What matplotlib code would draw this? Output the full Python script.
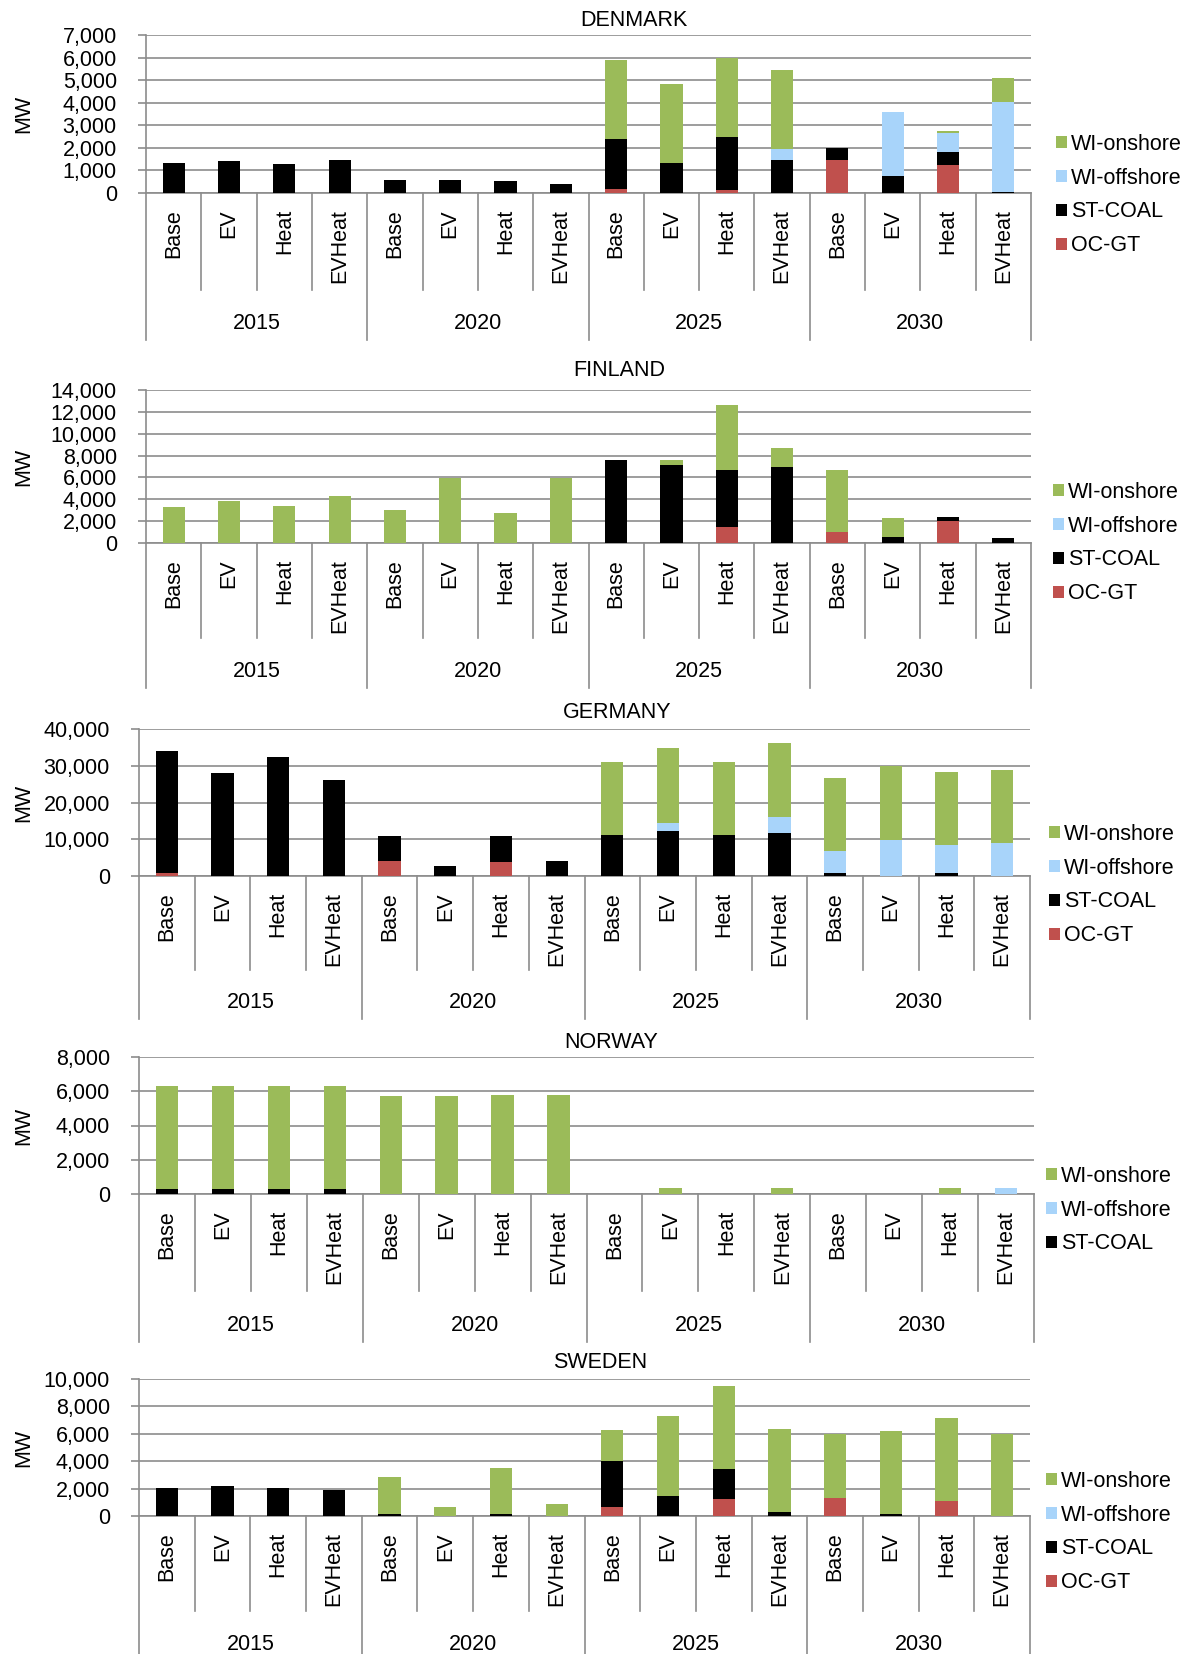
import matplotlib
matplotlib.use('Agg')
import matplotlib.pyplot as plt
from matplotlib.patches import Patch
from matplotlib.ticker import FuncFormatter

plt.rcParams['font.family'] = ['Liberation Sans', 'DejaVu Sans']
plt.rcParams['font.size'] = 15.5

W, H = 1191, 1654

years = ['2015', '2020', '2025', '2030']
scenarios = ['Base', 'EV', 'Heat', 'EVHeat']

series_names = ['OC-GT', 'ST-COAL', 'WI-offshore', 'WI-onshore']
series_colors = ['#C0504D', '#000000', '#A8D4FA', '#9BBB59']

# Denmark
dk_ocgt = [0, 0, 0, 0, 0, 0, 0, 0, 180, 0, 130, 0, 1460, 0, 1240, 0]
dk_coal = [1340, 1400, 1300, 1460, 590, 590, 520, 410, 2210, 1330, 2330, 1440, 530, 740, 560, 45]
dk_off = [0, 0, 0, 0, 0, 0, 0, 0, 0, 0, 0, 490, 0, 2830, 850, 3975]
dk_on = [0, 0, 0, 0, 0, 0, 0, 0, 3520, 3520, 3500, 3500, 0, 0, 90, 1060]

# Finland
fi_ocgt = [0, 0, 0, 0, 0, 0, 0, 0, 0, 0, 1420, 0, 1020, 0, 2010, 0]
fi_coal = [0, 0, 0, 0, 0, 0, 0, 0, 7550, 7150, 5230, 6930, 0, 530, 400, 430]
fi_off = [0] * 16
fi_on = [3250, 3870, 3380, 4330, 3000, 5980, 2760, 5980, 0, 400, 5950, 1730, 5700, 1730, 0, 0]

# Germany
de_ocgt = [900, 0, 0, 0, 4100, 0, 3700, 0, 0, 0, 0, 0, 0, 0, 0, 0]
de_coal = [33100, 27900, 32300, 26200, 6800, 2650, 7200, 4100, 11200, 12300, 11200, 11600, 730, 0, 730, 0]
de_off = [0, 0, 0, 0, 0, 0, 0, 0, 0, 2200, 0, 4450, 6100, 9850, 7650, 9100]
de_on = [0, 0, 0, 0, 0, 0, 0, 0, 19950, 20200, 19950, 20100, 19950, 20100, 19850, 19850]

# Norway
no_ocgt = [0] * 16
no_coal = [300, 300, 300, 300, 0, 0, 0, 0, 0, 0, 0, 0, 0, 0, 0, 0]
no_off = [0, 0, 0, 0, 0, 0, 0, 0, 0, 0, 0, 0, 0, 0, 0, 350]
no_on = [6000, 6000, 6000, 6000, 5720, 5720, 5800, 5800, 0, 330, 0, 330, 0, 0, 330, 0]

# Sweden
se_ocgt = [0, 0, 0, 0, 0, 0, 0, 0, 640, 0, 1225, 0, 1300, 0, 1100, 0]
se_coal = [2080, 2160, 2080, 1910, 170, 0, 120, 0, 3380, 1470, 2200, 320, 0, 120, 0, 0]
se_off = [0] * 16
se_on = [0, 0, 0, 0, 2670, 640, 3400, 910, 2230, 5860, 6060, 6050, 4680, 6050, 6050, 5980]

# layout in pixels: left, right, y of top tick, y of zero, bottom of label area,
# title x/y, legend x, legend centre y
panels = [
    dict(name='DENMARK', data=[dk_ocgt, dk_coal, dk_off, dk_on], ymax=7000, step=1000,
         box=(146, 1031, 35, 193, 340), title=(634, 20), leg=(1056, 195), legend=[0, 1, 2, 3]),
    dict(name='FINLAND', data=[fi_ocgt, fi_coal, fi_off, fi_on], ymax=14000, step=2000,
         box=(146, 1031, 390, 543, 688), title=(619, 371), leg=(1053, 543), legend=[0, 1, 2, 3]),
    dict(name='GERMANY', data=[de_ocgt, de_coal, de_off, de_on], ymax=40000, step=10000,
         box=(139, 1030, 729, 876, 1019), title=(617, 713), leg=(1049, 885), legend=[0, 1, 2, 3]),
    dict(name='NORWAY', data=[no_ocgt, no_coal, no_off, no_on], ymax=8000, step=2000,
         box=(139, 1034, 1057, 1194, 1342), title=(611, 1042), leg=(1046, 1210), legend=[1, 2, 3]),
    dict(name='SWEDEN', data=[se_ocgt, se_coal, se_off, se_on], ymax=10000, step=2000,
         box=(139, 1030, 1379, 1516, 1661), title=(600, 1363), leg=(1046, 1532), legend=[0, 1, 2, 3]),
]

grid_color = '#8C8C8C'

fig = plt.figure(figsize=(W / 100, H / 100), dpi=100)

n = len(years) * len(scenarios)
x = list(range(n))

for p in panels:
    left, right, ytop, yzero, ybot = p['box']
    ax = fig.add_axes([left / W, 1 - yzero / H, (right - left) / W, (yzero - ytop) / H])
    ax_h = yzero - ytop

    bottom = [0] * n
    for vals, name, color in zip(p['data'], series_names, series_colors):
        ax.bar(x, vals, width=0.4, bottom=bottom, color=color, linewidth=0, zorder=3)
        bottom = [b + v for b, v in zip(bottom, vals)]

    ax.set_xlim(-0.5, n - 0.5)
    ax.set_ylim(0, p['ymax'])
    ax.set_yticks(range(0, p['ymax'] + 1, p['step']))
    ax.yaxis.set_major_formatter(FuncFormatter(lambda v, pos: f'{int(v):,}'))
    ax.tick_params(axis='y', length=6, width=1.2, color=grid_color, pad=15, labelsize=15.5)
    ax.set_xticks([])
    ax.grid(axis='y', color=grid_color, linewidth=1.2, zorder=0)
    for s in ['top', 'right']:
        ax.spines[s].set_visible(False)
    for s in ['left', 'bottom']:
        ax.spines[s].set_color(grid_color)
        ax.spines[s].set_linewidth(1.2)
    ax.set_ylabel('MW')
    ax.yaxis.set_label_coords(-(left - 34) / (right - left), 0.5)

    # category axis below the plot
    tr = ax.get_xaxis_transform()
    lab_h = (ybot - yzero) / ax_h
    for k in range(n + 1):
        xb = k - 0.5
        depth = lab_h if k % 4 == 0 else 0.657 * lab_h
        ax.plot([xb, xb], [0, -depth], transform=tr, color=grid_color,
                linewidth=1.2, clip_on=False)
    for i in x:
        ax.text(i, -16 / ax_h, scenarios[i % 4], transform=tr, rotation=90,
                ha='center', va='top', fontsize=15.5)
    for g, yr in enumerate(years):
        ax.text(4 * g + 1.5, -0.886 * lab_h, yr, transform=tr,
                ha='center', va='center', fontsize=15.5)

    fig.text(p['title'][0] / W, 1 - p['title'][1] / H, p['name'],
             ha='center', va='center', fontsize=15.5)

    handles = [Patch(facecolor=series_colors[j], edgecolor='none', label=series_names[j])
               for j in reversed(p['legend'])]
    fig.legend(handles=handles, loc='center left',
               bbox_to_anchor=(p['leg'][0] / W, 1 - p['leg'][1] / H),
               frameon=False, fontsize=15.5, handlelength=0.5, handleheight=0.5,
               handletextpad=0.2, labelspacing=0.6, borderpad=0, borderaxespad=0)

fig.savefig('out.png', dpi=100)
